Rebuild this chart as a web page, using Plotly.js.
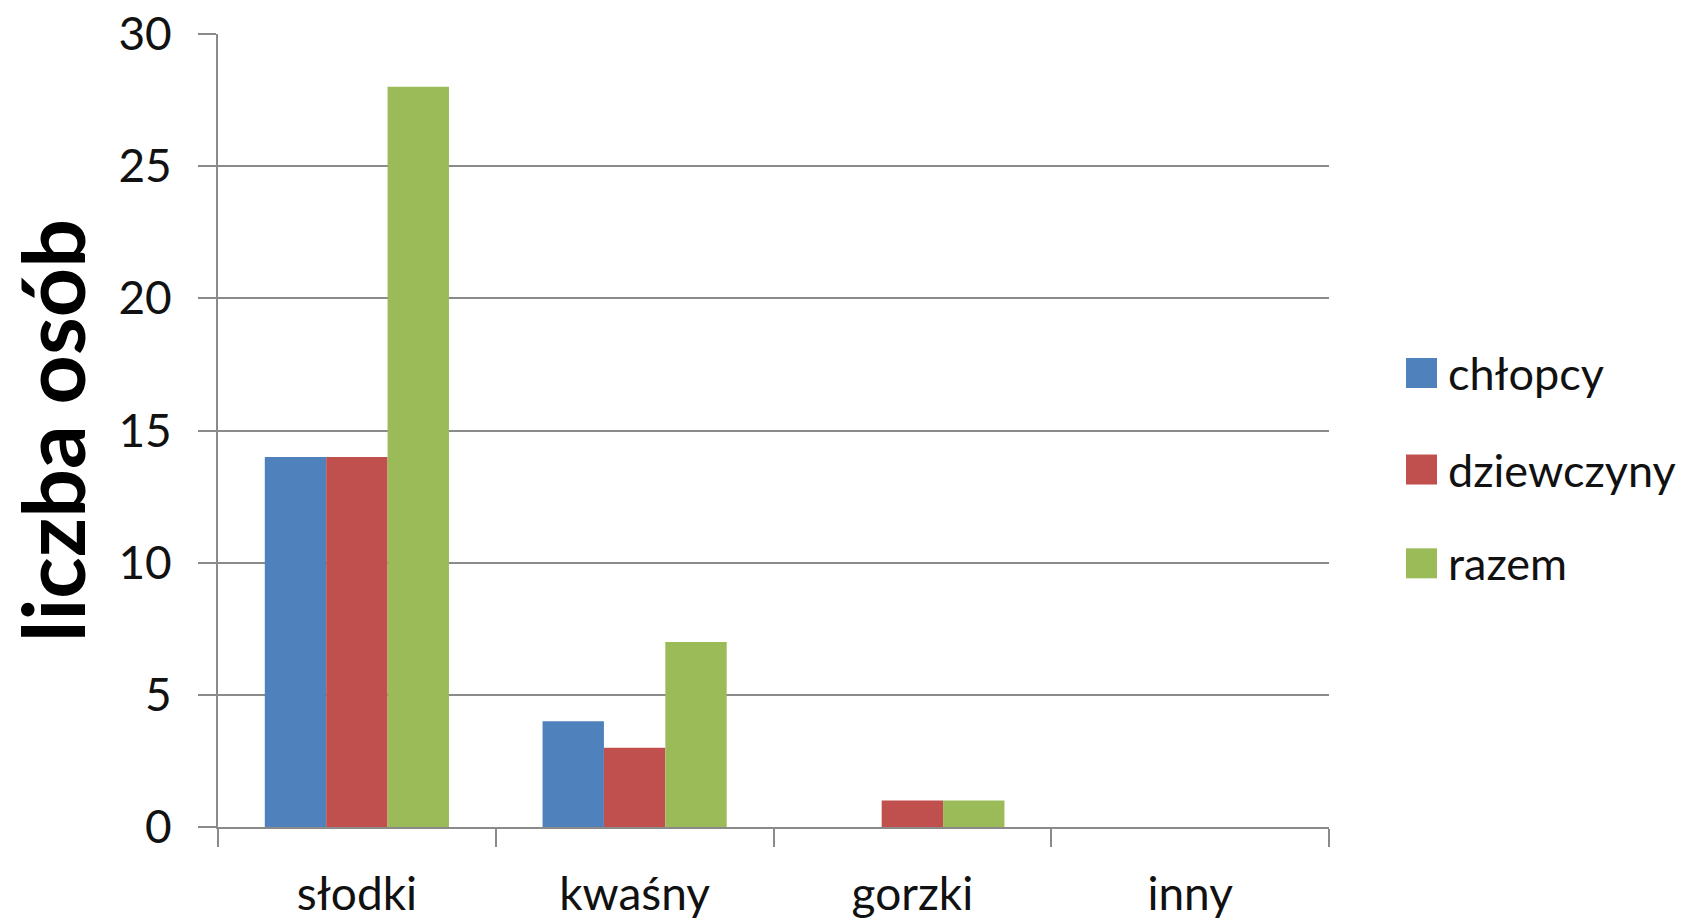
<!DOCTYPE html>
<html>
<head>
<meta charset="utf-8">
<script src="https://cdn.plot.ly/plotly-3.0.1.min.js"></script>
<style>html,body{margin:0;padding:0;background:#fff;}#chart{width:1685px;height:920px;}</style>
</head>
<body>
<div id="chart"></div>
<script>
const categories = ["słodki", "kwaśny", "gorzki", "inny"];
const seriesNames = ["chłopcy", "dziewczyny", "razem"];
const chlopcy = [14, 4, 0, 0];
const dziewczyny = [14, 3, 1, 0];
const razem = [28, 7, 1, 0];
const yTicks = [0, 5, 10, 15, 20, 25, 30];
const colors = ["#4F81BD", "#C0504D", "#9BBB59"];
const seriesValues = [chlopcy, dziewczyny, razem];

const FONT = "Lato, 'Open Sans', sans-serif";
const GRID = "#8a8a8a";

const traces = seriesValues.map((vals, i) => ({
  type: "bar",
  name: seriesNames[i],
  x: categories,
  y: vals,
  marker: {color: colors[i], line: {width: 0}},
  showlegend: false,
  hoverinfo: "x+y+name"
}));

const shapes = [];
const annotations = [];
const rowCenters = [0.5725, 0.4508, 0.3325];
seriesNames.forEach((n, i) => {
  shapes.push({
    type: "rect", xref: "paper", yref: "paper",
    xsizemode: "pixel", ysizemode: "pixel",
    xanchor: 1.0693, yanchor: rowCenters[i],
    x0: 0, x1: 31, y0: -15, y1: 15,
    fillcolor: colors[i], line: {width: 0}
  });
  annotations.push({
    xref: "paper", yref: "paper", x: 1.1055, y: rowCenters[i],
    xanchor: "left", yanchor: "middle", showarrow: false,
    text: n, font: {family: FONT, size: 45, color: "#111"}
  });
});

const layout = {
  width: 1685, height: 920,
  margin: {l: 218, r: 356, t: 34, b: 93, pad: 0},
  paper_bgcolor: "#fff", plot_bgcolor: "#fff",
  barmode: "group",
  bargap: 0.337,
  bargroupgap: 0,
  font: {family: FONT, size: 46, color: "#111"},
  xaxis: {
    type: "category",
    showgrid: false,
    showline: true, linecolor: GRID, linewidth: 2,
    ticks: "outside", tickson: "boundaries", ticklen: 18, tickwidth: 2, tickcolor: GRID,
    tickfont: {family: FONT, size: 46, color: "#111"},
    ticklabelstandoff: 26,
    zeroline: false,
    fixedrange: true
  },
  yaxis: {
    range: [0, 30],
    tickvals: yTicks,
    ticktext: yTicks.map(String),
    showgrid: true, gridcolor: GRID, gridwidth: 2,
    showline: true, linecolor: GRID, linewidth: 2,
    ticks: "outside", ticklen: 18, tickwidth: 2, tickcolor: GRID,
    tickfont: {family: FONT, size: 46, color: "#111"},
    ticklabelstandoff: 17,
    zeroline: false,
    title: {text: "liczba osób", font: {family: FONT, size: 86, color: "#000", weight: "bold"}, standoff: 22},
    fixedrange: true
  },
  shapes: shapes,
  annotations: annotations,
  showlegend: false
};

Plotly.newPlot("chart", traces, layout, {displayModeBar: false, staticPlot: true});
</script>
</body>
</html>
